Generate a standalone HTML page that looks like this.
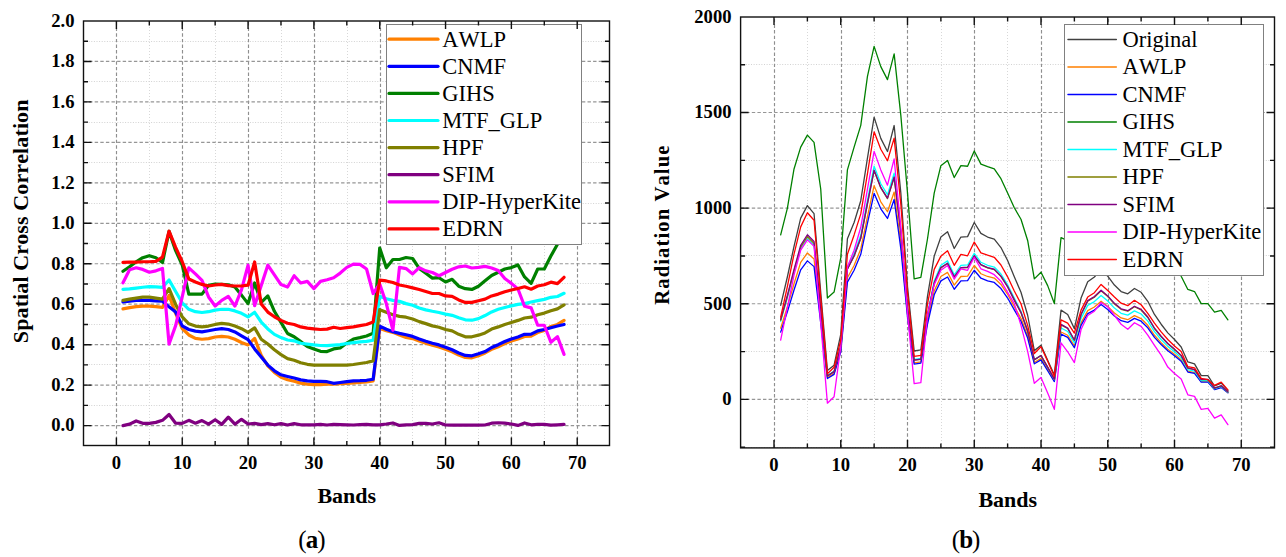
<!DOCTYPE html>
<html><head><meta charset="utf-8"><title>Spectral comparison</title>
<style>html,body{margin:0;padding:0;background:#fff;}body{width:1286px;height:557px;overflow:hidden;font-family:"Liberation Serif",serif;}svg{display:block;}text{font-kerning:none;}</style>
</head><body>
<svg width="1286" height="557" viewBox="0 0 1286 557">
<rect width="1286" height="557" fill="#fff"/>
<clipPath id="ca"><rect x="83.5" y="21" width="526.0" height="424.5"/></clipPath>
<path d="M149.5 21V445.5M215.5 21V445.5M281.5 21V445.5M347.5 21V445.5M412.5 21V445.5M478.5 21V445.5M544.5 21V445.5" stroke="#d8d8d8" stroke-width="1" stroke-dasharray="1 2" fill="none"/>
<path d="M83.5 405.5H609.5M83.5 364.5H609.5M83.5 324.5H609.5M83.5 283.5H609.5M83.5 243.5H609.5M83.5 203.5H609.5M83.5 162.5H609.5M83.5 122.5H609.5M83.5 81.5H609.5M83.5 41.5H609.5" stroke="#d2d2d2" stroke-width="1" stroke-dasharray="1 1.6" fill="none"/>
<path d="M116.5 445.5V21M182.5 445.5V21M248.5 445.5V21M314.5 445.5V21M380.5 445.5V21M445.5 445.5V21M511.5 445.5V21M577.5 445.5V21" stroke="#8f8f8f" stroke-width="1.15" stroke-dasharray="3.4 2.2" fill="none"/>
<path d="M83.5 425.6H609.5M83.5 385.14H609.5M83.5 344.68H609.5M83.5 304.22H609.5M83.5 263.76H609.5M83.5 223.3H609.5M83.5 182.84H609.5M83.5 142.38H609.5M83.5 101.92H609.5M83.5 61.46H609.5" stroke="#969696" stroke-width="1.2" stroke-dasharray="3.4 2.2" fill="none"/>
<g clip-path="url(#ca)" fill="none" stroke-linejoin="round" stroke-linecap="round">
<path d="M122.98,308.87 129.57,307.66 136.15,306.65 142.73,306.04 149.31,306.04 155.9,306.65 162.48,307.46 169.06,295.52 175.65,313.32 182.23,328.5 188.81,334.97 195.4,338.41 201.98,339.22 208.56,338.61 215.15,336.99 221.73,336.39 228.31,336.99 234.89,339.22 241.48,342.45 248.06,344.88 254.64,338.41 261.23,355.4 267.81,365.92 274.39,372.4 280.98,377.25 287.56,379.68 294.14,381.3 300.72,383.12 307.31,384.13 313.89,384.53 320.47,384.53 327.06,384.13 333.64,384.13 340.22,383.72 346.81,383.32 353.39,382.91 359.97,382.51 366.55,381.9 373.14,380.89 379.72,328.5 386.3,330.72 392.89,332.34 399.47,334.97 406.05,337.4 412.63,338.61 419.22,341.04 425.8,343.26 432.38,345.29 438.97,346.91 445.55,349.33 452.13,351.76 458.72,355 465.3,357.42 471.88,357.83 478.47,355.81 485.05,352.97 491.63,349.33 498.21,346.7 504.8,343.47 511.38,341.04 517.96,339.02 524.55,336.39 531.13,336.18 537.71,332.54 544.3,330.52 550.88,326.47 557.46,324.45 564.04,320.4" stroke="#FF8000" stroke-width="3.2"/>
<path d="M122.98,301.99 129.57,301.19 136.15,300.38 142.73,300.38 149.31,300.38 155.9,300.78 162.48,301.19 169.06,306.85 175.65,312.11 182.23,325.87 188.81,329.51 195.4,331.13 201.98,331.94 208.56,330.72 215.15,329.51 221.73,328.7 228.31,329.51 234.89,331.94 241.48,335.78 248.06,339.62 254.64,348.93 261.23,357.02 267.81,365.11 274.39,370.78 280.98,374.82 287.56,376.44 294.14,378.06 300.72,379.88 307.31,380.89 313.89,381.3 320.47,381.3 327.06,381.7 333.64,383.32 340.22,382.51 346.81,381.7 353.39,380.89 359.97,380.69 366.55,380.28 373.14,379.27 379.72,326.07 386.3,329.31 392.89,331.73 399.47,333.35 406.05,334.77 412.63,336.39 419.22,339.02 425.8,341.24 432.38,343.26 438.97,344.88 445.55,347.31 452.13,349.74 458.72,352.97 465.3,355.4 471.88,355.81 478.47,353.78 485.05,351.56 491.63,347.51 498.21,344.68 504.8,341.44 511.38,339.02 517.96,336.99 524.55,334.36 531.13,334.16 537.71,330.92 544.3,329.51 550.88,327.69 557.46,326.07 564.04,324.45" stroke="#0000FF" stroke-width="3.2"/>
<path d="M122.98,271.25 129.57,266.79 136.15,261.74 142.73,257.69 149.31,255.67 155.9,257.69 162.48,262.55 169.06,231.39 175.65,250.61 182.23,264.97 188.81,294.11 195.4,294.11 201.98,294.11 208.56,285.2 215.15,283.99 221.73,284.39 228.31,284.8 234.89,287.02 241.48,295.12 248.06,303.61 254.64,282.98 261.23,302.4 267.81,295.93 274.39,311.3 280.98,322.43 287.56,333.55 294.14,336.79 300.72,341.65 307.31,346.5 313.89,348.93 320.47,351.36 327.06,351.56 333.64,348.93 340.22,347.92 346.81,343.06 353.39,339.02 359.97,337.6 366.55,335.98 373.14,333.35 379.72,247.98 386.3,267.81 392.89,259.51 399.47,259.51 406.05,257.49 412.63,258.5 419.22,268.41 425.8,273.27 432.38,278.12 438.97,277.72 445.55,281.97 452.13,279.34 458.72,286.22 465.3,288.64 471.88,289.45 478.47,286.22 485.05,280.75 491.63,275.49 498.21,272.26 504.8,269.02 511.38,267.6 517.96,264.97 524.55,276.91 531.13,283.38 537.71,269.02 544.3,269.02 550.88,256.07 557.46,244.34 564.04,231.39" stroke="#008000" stroke-width="3.2"/>
<path d="M122.98,289.45 129.57,288.85 136.15,288.04 142.73,287.23 149.31,286.62 155.9,286.82 162.48,287.43 169.06,279.94 175.65,291.48 182.23,302.8 188.81,309.28 195.4,311.71 201.98,312.51 208.56,311.71 215.15,310.09 221.73,309.28 228.31,309.28 234.89,310.9 241.48,313.32 248.06,316.96 254.64,312.31 261.23,322.02 267.81,328.9 274.39,334.36 280.98,337.6 287.56,340.03 294.14,340.84 300.72,343.26 307.31,344.07 313.89,344.88 320.47,345.49 327.06,345.69 333.64,345.08 340.22,344.68 346.81,343.47 353.39,342.66 359.97,341.85 366.55,341.44 373.14,340.23 379.72,296.33 386.3,298.76 392.89,300.38 399.47,301.39 406.05,303.61 412.63,305.23 419.22,308.06 425.8,309.88 432.38,311.3 438.97,312.51 445.55,314.13 452.13,315.35 458.72,317.77 465.3,319.8 471.88,320.2 478.47,318.58 485.05,315.55 491.63,311.91 498.21,309.28 504.8,307.46 511.38,305.84 517.96,304.42 524.55,303.61 531.13,301.99 537.71,300.58 544.3,299.36 550.88,297.34 557.46,296.53 564.04,293.3" stroke="#00FFFF" stroke-width="3.2"/>
<path d="M122.98,300.38 129.57,299.16 136.15,298.15 142.73,297.14 149.31,297.14 155.9,298.15 162.48,299.16 169.06,288.64 175.65,304.42 182.23,316.96 188.81,323.84 195.4,326.07 201.98,326.88 208.56,326.07 215.15,324.45 221.73,323.44 228.31,324.05 234.89,326.07 241.48,328.7 248.06,332.34 254.64,327.89 261.23,339.22 267.81,344.07 274.39,349.74 280.98,354.59 287.56,358.64 294.14,360.26 300.72,362.68 307.31,364.3 313.89,365.11 320.47,365.11 327.06,365.11 333.64,365.11 340.22,365.11 346.81,365.11 353.39,364.51 359.97,363.49 366.55,362.48 373.14,360.86 379.72,309.68 386.3,312.31 392.89,314.74 399.47,316.36 406.05,317.17 412.63,318.99 419.22,321.62 425.8,323.64 432.38,325.87 438.97,327.28 445.55,329.51 452.13,330.92 458.72,334.36 465.3,336.79 471.88,336.79 478.47,335.17 485.05,332.95 491.63,329.1 498.21,326.88 504.8,324.45 511.38,322.43 517.96,320.4 524.55,317.98 531.13,317.17 537.71,314.74 544.3,313.12 550.88,310.69 557.46,308.87 564.04,304.83" stroke="#808000" stroke-width="3.2"/>
<path d="M122.98,425.6 129.57,424.18 136.15,420.95 142.73,423.37 149.31,423.37 155.9,422.36 162.48,420.34 169.06,414.47 175.65,423.17 182.23,423.37 188.81,420.34 195.4,423.17 201.98,420.54 208.56,424.18 215.15,419.73 221.73,424.39 228.31,417.1 234.89,424.18 241.48,419.33 248.06,423.98 254.64,423.37 261.23,424.59 267.81,423.58 274.39,424.79 280.98,423.58 287.56,424.99 294.14,423.58 300.72,424.79 307.31,424.79 313.89,424.79 320.47,424.39 327.06,424.99 333.64,424.39 340.22,424.59 346.81,424.79 353.39,424.99 359.97,424.59 366.55,424.39 373.14,424.79 379.72,424.79 386.3,423.98 392.89,422.97 399.47,425.4 406.05,424.79 412.63,424.59 419.22,423.37 425.8,423.37 432.38,423.98 438.97,422.77 445.55,424.99 452.13,425.2 458.72,425.2 465.3,425.2 471.88,425.2 478.47,425.2 485.05,424.99 491.63,423.17 498.21,422.77 504.8,423.17 511.38,423.98 517.96,425.4 524.55,422.97 531.13,424.79 537.71,424.39 544.3,424.39 550.88,425.2 557.46,424.79 564.04,424.39" stroke="#800080" stroke-width="3.2"/>
<path d="M122.98,282.78 129.57,269.83 136.15,267.81 142.73,269.42 149.31,272.26 155.9,270.84 162.48,268.41 169.06,344.07 175.65,325.66 182.23,296.73 188.81,267.81 195.4,273.88 201.98,280.35 208.56,296.94 215.15,306.04 221.73,300.38 228.31,296.33 234.89,306.04 241.48,289.86 248.06,265.18 254.64,305.64 261.23,285.41 267.81,265.18 274.39,274.89 280.98,284.6 287.56,287.02 294.14,275.7 300.72,282.98 307.31,281.36 313.89,288.64 320.47,281.36 327.06,279.74 333.64,277.72 340.22,273.07 346.81,267.4 353.39,264.16 359.97,264.37 366.55,269.02 373.14,293.5 379.72,283.99 386.3,303.61 392.89,330.11 399.47,267.4 406.05,268.62 412.63,273.88 419.22,267.6 425.8,270.84 432.38,272.46 438.97,275.7 445.55,272.46 452.13,269.22 458.72,266.79 465.3,265.99 471.88,268.01 478.47,267.4 485.05,266.39 491.63,268.01 498.21,270.44 504.8,278.53 511.38,283.38 517.96,289.05 524.55,306.24 531.13,307.86 537.71,325.26 544.3,325.26 550.88,342.25 557.46,336.59 564.04,354.39" stroke="#FF00FF" stroke-width="3.2"/>
<path d="M122.98,262.34 129.57,262.14 136.15,262.14 142.73,261.74 149.31,261.74 155.9,261.33 162.48,257.08 169.06,231.19 175.65,247.37 182.23,261.74 188.81,278.93 195.4,281.97 201.98,284.39 208.56,286.01 215.15,285 221.73,284.39 228.31,285.61 234.89,286.01 241.48,286.01 248.06,285.2 254.64,261.94 261.23,304.02 267.81,312.11 274.39,316.76 280.98,320.4 287.56,323.24 294.14,324.45 300.72,326.88 307.31,328.09 313.89,328.9 320.47,329.51 327.06,329.1 333.64,327.28 340.22,328.5 346.81,327.69 353.39,326.88 359.97,325.66 366.55,324.45 373.14,322.02 379.72,280.15 386.3,280.96 392.89,282.57 399.47,285 406.05,286.22 412.63,287.83 419.22,289.45 425.8,291.48 432.38,293.5 438.97,293.5 445.55,295.93 452.13,296.33 458.72,299.97 465.3,302.4 471.88,302.4 478.47,300.78 485.05,299.16 491.63,295.93 498.21,294.11 504.8,291.68 511.38,290.06 517.96,288.44 524.55,286.82 531.13,289.25 537.71,286.01 544.3,284.8 550.88,282.17 557.46,283.59 564.04,277.31" stroke="#FF0000" stroke-width="3.2"/>
</g>
<rect x="386.5" y="24.5" width="195" height="220" fill="#fff" stroke="#808080" stroke-width="1"/>
<path d="M389 39.2H438" stroke="#FF8000" stroke-width="3.2" stroke-linecap="round"/>
<text x="442.2" y="46.6" font-family="Liberation Serif" font-size="22.5">AWLP</text>
<path d="M389 66.3H438" stroke="#0000FF" stroke-width="3.2" stroke-linecap="round"/>
<text x="442.2" y="73.7" font-family="Liberation Serif" font-size="22.5">CNMF</text>
<path d="M389 93.4H438" stroke="#008000" stroke-width="3.2" stroke-linecap="round"/>
<text x="442.2" y="100.8" font-family="Liberation Serif" font-size="22.5">GIHS</text>
<path d="M389 120.5H438" stroke="#00FFFF" stroke-width="3.2" stroke-linecap="round"/>
<text x="442.2" y="127.9" font-family="Liberation Serif" font-size="22.5">MTF_GLP</text>
<path d="M389 147.6H438" stroke="#808000" stroke-width="3.2" stroke-linecap="round"/>
<text x="442.2" y="155" font-family="Liberation Serif" font-size="22.5">HPF</text>
<path d="M389 174.7H438" stroke="#800080" stroke-width="3.2" stroke-linecap="round"/>
<text x="442.2" y="182.1" font-family="Liberation Serif" font-size="22.5">SFIM</text>
<path d="M389 201.8H438" stroke="#FF00FF" stroke-width="3.2" stroke-linecap="round"/>
<text x="442.2" y="209.2" font-family="Liberation Serif" font-size="22.5">DIP-HyperKite</text>
<path d="M389 228.9H438" stroke="#FF0000" stroke-width="3.2" stroke-linecap="round"/>
<text x="442.2" y="236.3" font-family="Liberation Serif" font-size="22.5">EDRN</text>
<rect x="83.5" y="21" width="526.0" height="424.5" fill="none" stroke="#111" stroke-width="1.4"/>
<path d="M116.4 445.5v-8M116.4 21v8M149.31 445.5v-4.5M149.31 21v4.5M182.23 445.5v-8M182.23 21v8M215.15 445.5v-4.5M215.15 21v4.5M248.06 445.5v-8M248.06 21v8M280.98 445.5v-4.5M280.98 21v4.5M313.89 445.5v-8M313.89 21v8M346.81 445.5v-4.5M346.81 21v4.5M379.72 445.5v-8M379.72 21v8M412.63 445.5v-4.5M412.63 21v4.5M445.55 445.5v-8M445.55 21v8M478.47 445.5v-4.5M478.47 21v4.5M511.38 445.5v-8M511.38 21v8M544.3 445.5v-4.5M544.3 21v4.5M577.21 445.5v-8M577.21 21v8M83.5 425.6h8M609.5 425.6h-8M83.5 385.14h8M609.5 385.14h-8M83.5 344.68h8M609.5 344.68h-8M83.5 304.22h8M609.5 304.22h-8M83.5 263.76h8M609.5 263.76h-8M83.5 223.3h8M609.5 223.3h-8M83.5 182.84h8M609.5 182.84h-8M83.5 142.38h8M609.5 142.38h-8M83.5 101.92h8M609.5 101.92h-8M83.5 61.46h8M609.5 61.46h-8M83.5 405.37h4.5M609.5 405.37h-4.5M83.5 364.91h4.5M609.5 364.91h-4.5M83.5 324.45h4.5M609.5 324.45h-4.5M83.5 283.99h4.5M609.5 283.99h-4.5M83.5 243.53h4.5M609.5 243.53h-4.5M83.5 203.07h4.5M609.5 203.07h-4.5M83.5 162.61h4.5M609.5 162.61h-4.5M83.5 122.15h4.5M609.5 122.15h-4.5M83.5 81.69h4.5M609.5 81.69h-4.5M83.5 41.23h4.5M609.5 41.23h-4.5" stroke="#111" stroke-width="1.4" fill="none"/>
<text x="116.4" y="468.5" font-family="Liberation Serif" font-weight="bold" font-size="18.6" text-anchor="middle">0</text>
<text x="182.23" y="468.5" font-family="Liberation Serif" font-weight="bold" font-size="18.6" text-anchor="middle">10</text>
<text x="248.06" y="468.5" font-family="Liberation Serif" font-weight="bold" font-size="18.6" text-anchor="middle">20</text>
<text x="313.89" y="468.5" font-family="Liberation Serif" font-weight="bold" font-size="18.6" text-anchor="middle">30</text>
<text x="379.72" y="468.5" font-family="Liberation Serif" font-weight="bold" font-size="18.6" text-anchor="middle">40</text>
<text x="445.55" y="468.5" font-family="Liberation Serif" font-weight="bold" font-size="18.6" text-anchor="middle">50</text>
<text x="511.38" y="468.5" font-family="Liberation Serif" font-weight="bold" font-size="18.6" text-anchor="middle">60</text>
<text x="577.21" y="468.5" font-family="Liberation Serif" font-weight="bold" font-size="18.6" text-anchor="middle">70</text>
<text x="74.5" y="431.4" font-family="Liberation Serif" font-weight="bold" font-size="18.6" text-anchor="end">0.0</text>
<text x="74.5" y="390.94" font-family="Liberation Serif" font-weight="bold" font-size="18.6" text-anchor="end">0.2</text>
<text x="74.5" y="350.48" font-family="Liberation Serif" font-weight="bold" font-size="18.6" text-anchor="end">0.4</text>
<text x="74.5" y="310.02" font-family="Liberation Serif" font-weight="bold" font-size="18.6" text-anchor="end">0.6</text>
<text x="74.5" y="269.56" font-family="Liberation Serif" font-weight="bold" font-size="18.6" text-anchor="end">0.8</text>
<text x="74.5" y="229.1" font-family="Liberation Serif" font-weight="bold" font-size="18.6" text-anchor="end">1.0</text>
<text x="74.5" y="188.64" font-family="Liberation Serif" font-weight="bold" font-size="18.6" text-anchor="end">1.2</text>
<text x="74.5" y="148.18" font-family="Liberation Serif" font-weight="bold" font-size="18.6" text-anchor="end">1.4</text>
<text x="74.5" y="107.72" font-family="Liberation Serif" font-weight="bold" font-size="18.6" text-anchor="end">1.6</text>
<text x="74.5" y="67.26" font-family="Liberation Serif" font-weight="bold" font-size="18.6" text-anchor="end">1.8</text>
<text x="74.5" y="26.8" font-family="Liberation Serif" font-weight="bold" font-size="18.6" text-anchor="end">2.0</text>
<text x="346.8" y="503.3" font-family="Liberation Serif" font-weight="bold" font-size="22" text-anchor="middle">Bands</text>
<text transform="translate(27.5,221.3) rotate(-90)" font-family="Liberation Serif" font-weight="bold" font-size="22" letter-spacing="0.12" text-anchor="middle">Spatial Cross Correlation</text>
<text x="311.4" y="547.6" font-family="Liberation Serif" font-size="25" letter-spacing="-1" text-anchor="middle">(<tspan font-weight="bold">a</tspan>)</text>
<clipPath id="cb"><rect x="740.6" y="17" width="533.9" height="430.9"/></clipPath>
<path d="M807.5 17V447.9M874.5 17V447.9M941.5 17V447.9M1007.5 17V447.9M1074.5 17V447.9M1141.5 17V447.9M1208.5 17V447.9" stroke="#d8d8d8" stroke-width="1" stroke-dasharray="1 2" fill="none"/>
<path d="M740.6 447.5H1274.5M740.6 351.5H1274.5M740.6 255.5H1274.5M740.6 160.5H1274.5M740.6 64.5H1274.5" stroke="#d2d2d2" stroke-width="1" stroke-dasharray="1 1.6" fill="none"/>
<path d="M774.5 447.9V17M841.5 447.9V17M907.5 447.9V17M974.5 447.9V17M1041.5 447.9V17M1108.5 447.9V17M1174.5 447.9V17M1241.5 447.9V17" stroke="#8f8f8f" stroke-width="1.15" stroke-dasharray="3.4 2.2" fill="none"/>
<path d="M740.6 399.4H1274.5M740.6 303.77H1274.5M740.6 208.15H1274.5M740.6 112.52H1274.5" stroke="#969696" stroke-width="1.2" stroke-dasharray="3.4 2.2" fill="none"/>
<g clip-path="url(#cb)" fill="none" stroke-linejoin="round" stroke-linecap="round">
<path d="M780.67,305.3 787.35,277 794.02,246.4 800.7,218.09 807.38,205.66 814.05,213.7 820.73,292.3 827.4,370.52 834.08,365.17 840.75,334.38 847.42,238.75 854.1,222.49 860.77,200.69 867.45,158.04 874.12,117.11 880.8,138.34 887.48,151.54 894.15,125.53 900.83,192.85 907.5,286.56 914.17,351.01 920.85,349.87 927.52,296.12 934.2,256.15 940.88,237.03 947.55,231.67 954.23,248.5 960.9,237.03 967.58,236.65 974.25,222.49 980.92,233.39 987.6,237.03 994.27,239.13 1000.95,247.55 1007.62,260.55 1014.3,276.81 1020.98,292.3 1027.65,315.25 1034.33,350.63 1041,345.28 1047.67,360.19 1054.35,374.92 1061.03,310.09 1067.7,314.48 1074.38,328.64 1081.05,298.04 1087.72,281.78 1094.4,277 1101.08,269.35 1107.75,276.23 1114.42,285.03 1121.1,291.53 1127.78,293.83 1134.45,288.47 1141.12,292.3 1147.8,301.29 1154.47,314.48 1161.15,324.24 1167.83,332.84 1174.5,339.54 1181.17,347 1187.85,361.91 1194.53,363.83 1201.2,375.69 1207.88,375.69 1214.55,386.01 1221.22,383.14 1227.9,390.41" stroke="#404040" stroke-width="1.3"/>
<path d="M780.67,328.25 787.35,306.87 794.02,283.73 800.7,262.33 807.38,252.94 814.05,259 820.73,318.42 827.4,377.54 834.08,373.49 840.75,350.17 847.42,277.78 854.1,265.49 860.77,248.98 867.45,216.7 874.12,185.72 880.8,201.78 887.48,211.76 894.15,192.08 900.83,243.03 907.5,313.99 914.17,362.78 920.85,361.9 927.52,321.22 934.2,290.96 940.88,276.48 947.55,272.43 954.23,285.17 960.9,276.48 967.58,276.2 974.25,265.49 980.92,273.73 987.6,276.48 994.27,278.07 1000.95,284.44 1007.62,294.29 1014.3,306.61 1020.98,318.33 1027.65,335.69 1034.33,362.49 1041,358.43 1047.67,369.76 1054.35,380.91 1061.03,331.97 1067.7,335.29 1074.38,345.96 1081.05,322.88 1087.72,310.6 1094.4,306.99 1101.08,301.21 1107.75,306.41 1114.42,313.05 1121.1,317.97 1127.78,319.69 1134.45,315.65 1141.12,318.54 1147.8,325.33 1154.47,335.29 1161.15,342.66 1167.83,349.16 1174.5,354.21 1181.17,359.83 1187.85,371.09 1194.53,372.55 1201.2,381.5 1207.88,381.5 1214.55,389.28 1221.22,387.12 1227.9,392.61" stroke="#FF8000" stroke-width="1.3"/>
<path d="M780.67,332.12 787.35,311.88 794.02,290 800.7,269.77 807.38,260.88 814.05,266.62 820.73,322.82 827.4,378.53 834.08,374.4 840.75,351.93 847.42,282.13 854.1,270.27 860.77,254.34 867.45,223.2 874.12,193.33 880.8,208.84 887.48,218.46 894.15,199.47 900.83,248.62 907.5,317.03 914.17,364.08 920.85,363.23 927.52,324.01 934.2,294.82 940.88,280.86 947.55,276.96 954.23,289.24 960.9,280.86 967.58,280.6 974.25,270.27 980.92,278.22 987.6,280.86 994.27,282.41 1000.95,288.55 1007.62,298.04 1014.3,309.91 1020.98,321.22 1027.65,337.97 1034.33,363.79 1041,359.89 1047.67,370.77 1054.35,381.54 1061.03,334.2 1067.7,337.42 1074.38,347.74 1081.05,325.41 1087.72,313.55 1094.4,310.05 1101.08,304.46 1107.75,309.49 1114.42,315.92 1121.1,320.66 1127.78,322.33 1134.45,318.42 1141.12,321.22 1147.8,327.78 1154.47,337.42 1161.15,344.53 1167.83,350.82 1174.5,355.7 1181.17,361.15 1187.85,372.03 1194.53,373.43 1201.2,382.09 1207.88,382.09 1214.55,389.63 1221.22,387.54 1227.9,392.84" stroke="#0000FF" stroke-width="1.3"/>
<path d="M780.67,234.92 787.35,208.34 794.02,168.94 800.7,147.14 807.38,135.09 814.05,142.36 820.73,189.02 827.4,298.04 834.08,292.11 840.75,257.88 847.42,169.9 854.1,147.14 860.77,125.34 867.45,76.38 874.12,46.35 880.8,66.62 887.48,79.63 894.15,53.81 900.83,115.39 907.5,192.85 914.17,278.91 920.85,277.38 927.52,238.75 934.2,193.04 940.88,165.69 947.55,160.53 954.23,177.55 960.9,165.69 967.58,166.27 974.25,150.97 980.92,164.16 987.6,166.65 994.27,168.94 1000.95,178.7 1007.62,193.04 1014.3,207.77 1020.98,219.24 1027.65,240.47 1034.33,278.91 1041,272.22 1047.67,285.61 1054.35,303.58 1061.03,237.6 1067.7,240.66 1074.38,250.22 1081.05,227.27 1087.72,211.97 1094.4,208.15 1101.08,198.59 1107.75,208.15 1114.42,217.71 1121.1,227.27 1127.78,231.1 1134.45,223.45 1141.12,229.19 1147.8,242.57 1154.47,254.05 1161.15,261.7 1167.83,265.52 1174.5,261.7 1181.17,276.23 1187.85,289.43 1194.53,291.53 1201.2,303.58 1207.88,303.58 1214.55,312.19 1221.22,310.47 1227.9,319.84" stroke="#008000" stroke-width="1.3"/>
<path d="M780.67,321.29 787.35,297.81 794.02,272.41 800.7,248.92 807.38,238.6 814.05,245.27 820.73,310.51 827.4,375.55 834.08,371.11 840.75,345.7 847.42,266.71 854.1,253.28 860.77,235.27 867.45,200.04 874.12,166.23 880.8,183.77 887.48,194.67 894.15,173.19 900.83,228.79 907.5,306.2 914.17,359.43 920.85,358.49 927.52,314.1 934.2,281.07 940.88,265.28 947.55,260.86 954.23,274.76 960.9,265.28 967.58,264.97 974.25,253.28 980.92,262.27 987.6,265.28 994.27,267.02 1000.95,273.98 1007.62,284.71 1014.3,298.13 1020.98,311.33 1027.65,330.51 1034.33,359.66 1041,355.49 1047.67,367.75 1054.35,379.72 1061.03,327.95 1067.7,331.49 1074.38,342.81 1081.05,318.37 1087.72,305.4 1094.4,301.59 1101.08,295.51 1107.75,301.04 1114.42,308.1 1121.1,313.3 1127.78,315.15 1134.45,310.91 1141.12,313.97 1147.8,321.16 1154.47,331.7 1161.15,339.5 1167.83,346.37 1174.5,351.72 1181.17,357.67 1187.85,369.55 1194.53,371.08 1201.2,380.52 1207.88,380.52 1214.55,388.75 1221.22,386.47 1227.9,392.25" stroke="#00FFFF" stroke-width="1.3"/>
<path d="M780.67,320.36 787.35,296.58 794.02,270.88 800.7,247.11 807.38,236.67 814.05,243.42 820.73,309.44 827.4,376.01 834.08,371.67 840.75,346.73 847.42,269.27 854.1,256.12 860.77,238.44 867.45,203.9 874.12,170.74 880.8,187.93 887.48,198.63 894.15,177.57 900.83,232.09 907.5,308 914.17,360.21 920.85,359.28 927.52,315.75 934.2,283.37 940.88,267.88 947.55,263.54 954.23,277.17 960.9,267.88 967.58,267.57 974.25,256.12 980.92,264.93 987.6,267.88 994.27,269.58 1000.95,276.41 1007.62,286.93 1014.3,300.1 1020.98,312.65 1027.65,331.24 1034.33,359.89 1041,355.57 1047.67,367.31 1054.35,379.17 1061.03,324.83 1067.7,328.5 1074.38,340.32 1081.05,314.77 1087.72,301.19 1094.4,297.2 1101.08,290.81 1107.75,296.56 1114.42,303.91 1121.1,309.34 1127.78,311.25 1134.45,306.78 1141.12,309.97 1147.8,317.47 1154.47,328.5 1161.15,336.63 1167.83,343.82 1174.5,349.41 1181.17,355.64 1187.85,368.09 1194.53,369.7 1201.2,379.61 1207.88,379.61 1214.55,388.23 1221.22,385.82 1227.9,391.9" stroke="#808000" stroke-width="1.3"/>
<path d="M780.67,319.42 787.35,295.36 794.02,269.35 800.7,245.29 807.38,234.73 814.05,241.54 820.73,308.37 827.4,375.95 834.08,371.61 840.75,346.6 847.42,268.95 854.1,255.75 860.77,238.04 867.45,203.43 874.12,170.19 880.8,187.42 887.48,198.13 894.15,177.01 900.83,231.67 907.5,307.77 914.17,360.12 920.85,359.18 927.52,315.54 934.2,283.08 940.88,267.55 947.55,263.21 954.23,276.87 960.9,267.55 967.58,267.25 974.25,255.75 980.92,264.61 987.6,267.55 994.27,269.25 1000.95,276.1 1007.62,286.66 1014.3,299.85 1020.98,312.44 1027.65,331.07 1034.33,359.79 1041,355.45 1047.67,367.19 1054.35,379.07 1061.03,324.37 1067.7,328.06 1074.38,339.96 1081.05,314.26 1087.72,300.6 1094.4,296.58 1101.08,290.16 1107.75,295.93 1114.42,303.34 1121.1,308.79 1127.78,310.72 1134.45,306.22 1141.12,309.44 1147.8,316.99 1154.47,328.06 1161.15,336.27 1167.83,343.5 1174.5,349.12 1181.17,355.37 1187.85,367.92 1194.53,369.53 1201.2,379.47 1207.88,379.47 1214.55,388.15 1221.22,385.74 1227.9,391.85" stroke="#800080" stroke-width="1.3"/>
<path d="M780.67,340.11 787.35,307.6 794.02,275.09 800.7,250.22 807.38,239.9 814.05,246.4 820.73,322.9 827.4,403.22 834.08,396.72 840.75,346.61 847.42,267.05 854.1,250.22 860.77,227.27 867.45,189.02 874.12,151.35 880.8,169.9 887.48,185.2 894.15,159 900.83,227.27 907.5,313.34 914.17,383.72 920.85,382.57 927.52,315.25 934.2,284.65 940.88,270.31 947.55,265.52 954.23,279.1 960.9,268.78 967.58,270.31 974.25,257.3 980.92,268.78 987.6,271.45 994.27,274.7 1000.95,281.21 1007.62,292.3 1014.3,303.58 1020.98,325.39 1027.65,351.4 1034.33,383.33 1041,377.41 1047.67,393.09 1054.35,409.34 1061.03,342.98 1067.7,351.78 1074.38,362.68 1081.05,329.59 1087.72,315.44 1094.4,311.23 1101.08,302.44 1107.75,306.83 1114.42,315.44 1121.1,324.24 1127.78,329.21 1134.45,322.71 1141.12,326.34 1147.8,335.14 1154.47,345.28 1161.15,355.03 1167.83,367.08 1174.5,373.58 1181.17,378.94 1187.85,394.81 1194.53,396.34 1201.2,409.34 1207.88,408.39 1214.55,418.14 1221.22,414.89 1227.9,424.64" stroke="#FF00FF" stroke-width="1.3"/>
<path d="M780.67,317.16 787.35,286.56 794.02,254.05 800.7,226.89 807.38,212.74 814.05,220.2 820.73,298.04 827.4,373.77 834.08,367.27 840.75,340.11 847.42,254.24 854.1,234.92 860.77,213.89 867.45,173.72 874.12,131.84 880.8,149.24 887.48,160.72 894.15,138.15 900.83,204.32 907.5,292.3 914.17,356.37 920.85,355.41 927.52,303.77 934.2,269.35 940.88,256.15 947.55,250.8 954.23,265.33 960.9,254.43 967.58,255.77 974.25,242 980.92,252.9 987.6,255.2 994.27,257.3 1000.95,264.95 1007.62,276.81 1014.3,290.96 1020.98,303.77 1027.65,325.39 1034.33,353.5 1041,346.81 1047.67,361.15 1054.35,376.45 1061.03,319.84 1067.7,323.09 1074.38,333.04 1081.05,310.09 1087.72,297.08 1094.4,292.68 1101.08,284.46 1107.75,290.58 1114.42,297.08 1121.1,303.2 1127.78,305.69 1134.45,300.33 1141.12,304.73 1147.8,313.34 1154.47,323.09 1161.15,331.89 1167.83,339.54 1174.5,346.04 1181.17,351.4 1187.85,366.7 1194.53,367.84 1201.2,378.36 1207.88,379.7 1214.55,385.44 1221.22,382.19 1227.9,389.84" stroke="#FF0000" stroke-width="1.3"/>
</g>
<rect x="1064.5" y="24.5" width="199" height="251" fill="#fff" stroke="#808080" stroke-width="1"/>
<path d="M1068 39.4H1116.3" stroke="#404040" stroke-width="1.5" stroke-linecap="round"/>
<text x="1122.6" y="46.8" font-family="Liberation Serif" font-size="22.5">Original</text>
<path d="M1068 66.9H1116.3" stroke="#FF8000" stroke-width="1.5" stroke-linecap="round"/>
<text x="1122.6" y="74.3" font-family="Liberation Serif" font-size="22.5">AWLP</text>
<path d="M1068 94.4H1116.3" stroke="#0000FF" stroke-width="1.5" stroke-linecap="round"/>
<text x="1122.6" y="101.8" font-family="Liberation Serif" font-size="22.5">CNMF</text>
<path d="M1068 121.9H1116.3" stroke="#008000" stroke-width="1.5" stroke-linecap="round"/>
<text x="1122.6" y="129.3" font-family="Liberation Serif" font-size="22.5">GIHS</text>
<path d="M1068 149.4H1116.3" stroke="#00FFFF" stroke-width="1.5" stroke-linecap="round"/>
<text x="1122.6" y="156.8" font-family="Liberation Serif" font-size="22.5">MTF_GLP</text>
<path d="M1068 176.9H1116.3" stroke="#808000" stroke-width="1.5" stroke-linecap="round"/>
<text x="1122.6" y="184.3" font-family="Liberation Serif" font-size="22.5">HPF</text>
<path d="M1068 204.4H1116.3" stroke="#800080" stroke-width="1.5" stroke-linecap="round"/>
<text x="1122.6" y="211.8" font-family="Liberation Serif" font-size="22.5">SFIM</text>
<path d="M1068 231.9H1116.3" stroke="#FF00FF" stroke-width="1.5" stroke-linecap="round"/>
<text x="1122.6" y="239.3" font-family="Liberation Serif" font-size="22.5">DIP-HyperKite</text>
<path d="M1068 259.4H1116.3" stroke="#FF0000" stroke-width="1.5" stroke-linecap="round"/>
<text x="1122.6" y="266.8" font-family="Liberation Serif" font-size="22.5">EDRN</text>
<rect x="740.6" y="17" width="533.9" height="430.9" fill="none" stroke="#111" stroke-width="1.4"/>
<path d="M774 447.9v-8M774 17v8M807.38 447.9v-4.5M807.38 17v4.5M840.75 447.9v-8M840.75 17v8M874.12 447.9v-4.5M874.12 17v4.5M907.5 447.9v-8M907.5 17v8M940.88 447.9v-4.5M940.88 17v4.5M974.25 447.9v-8M974.25 17v8M1007.62 447.9v-4.5M1007.62 17v4.5M1041 447.9v-8M1041 17v8M1074.38 447.9v-4.5M1074.38 17v4.5M1107.75 447.9v-8M1107.75 17v8M1141.12 447.9v-4.5M1141.12 17v4.5M1174.5 447.9v-8M1174.5 17v8M1207.88 447.9v-4.5M1207.88 17v4.5M1241.25 447.9v-8M1241.25 17v8M740.6 399.4h8M1274.5 399.4h-8M740.6 303.77h8M1274.5 303.77h-8M740.6 208.15h8M1274.5 208.15h-8M740.6 112.52h8M1274.5 112.52h-8M740.6 447.21h4.5M1274.5 447.21h-4.5M740.6 351.59h4.5M1274.5 351.59h-4.5M740.6 255.96h4.5M1274.5 255.96h-4.5M740.6 160.34h4.5M1274.5 160.34h-4.5M740.6 64.71h4.5M1274.5 64.71h-4.5" stroke="#111" stroke-width="1.4" fill="none"/>
<text x="774" y="471" font-family="Liberation Serif" font-weight="bold" font-size="18.6" text-anchor="middle">0</text>
<text x="840.75" y="471" font-family="Liberation Serif" font-weight="bold" font-size="18.6" text-anchor="middle">10</text>
<text x="907.5" y="471" font-family="Liberation Serif" font-weight="bold" font-size="18.6" text-anchor="middle">20</text>
<text x="974.25" y="471" font-family="Liberation Serif" font-weight="bold" font-size="18.6" text-anchor="middle">30</text>
<text x="1041" y="471" font-family="Liberation Serif" font-weight="bold" font-size="18.6" text-anchor="middle">40</text>
<text x="1107.75" y="471" font-family="Liberation Serif" font-weight="bold" font-size="18.6" text-anchor="middle">50</text>
<text x="1174.5" y="471" font-family="Liberation Serif" font-weight="bold" font-size="18.6" text-anchor="middle">60</text>
<text x="1241.25" y="471" font-family="Liberation Serif" font-weight="bold" font-size="18.6" text-anchor="middle">70</text>
<text x="731.5" y="405.2" font-family="Liberation Serif" font-weight="bold" font-size="18.6" text-anchor="end">0</text>
<text x="731.5" y="309.57" font-family="Liberation Serif" font-weight="bold" font-size="18.6" text-anchor="end">500</text>
<text x="731.5" y="213.95" font-family="Liberation Serif" font-weight="bold" font-size="18.6" text-anchor="end">1000</text>
<text x="731.5" y="118.32" font-family="Liberation Serif" font-weight="bold" font-size="18.6" text-anchor="end">1500</text>
<text x="731.5" y="22.7" font-family="Liberation Serif" font-weight="bold" font-size="18.6" text-anchor="end">2000</text>
<text x="1007.8" y="506.7" font-family="Liberation Serif" font-weight="bold" font-size="22" text-anchor="middle">Bands</text>
<text transform="translate(669.4,224.6) rotate(-90)" font-family="Liberation Serif" font-weight="bold" font-size="20.6" letter-spacing="1.1" text-anchor="middle">Radiation Value</text>
<text x="965.6" y="547.6" font-family="Liberation Serif" font-size="25" letter-spacing="-1" text-anchor="middle">(<tspan font-weight="bold">b</tspan>)</text>
</svg>
</body></html>
